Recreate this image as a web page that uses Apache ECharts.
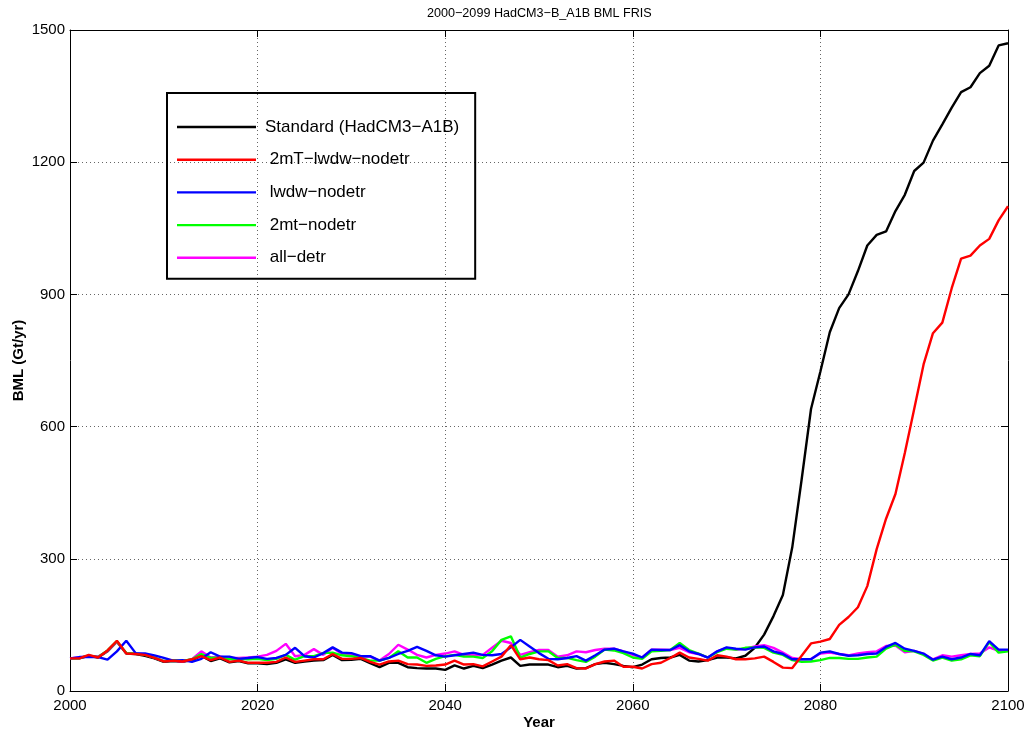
<!DOCTYPE html>
<html><head><meta charset="utf-8">
<script src="https://cdn.jsdelivr.net/npm/echarts@6/dist/echarts.min.js"></script>
<style>html,body{margin:0;padding:0;background:#fff}#c{width:1027px;height:736px}</style>
</head><body><div id="c"></div>
<script>
const START_YEAR = 2000;
const X_TICKS = [2000, 2020, 2040, 2060, 2080, 2100];
const Y_TICKS = [0, 300, 600, 900, 1200, 1500];
const TITLE = '2000\u22122099 HadCM3\u2212B_A1B BML FRIS';
const NAMES = ['Standard (HadCM3\u2212A1B)', ' 2mT\u2212lwdw\u2212nodetr', ' lwdw\u2212nodetr', ' 2mt\u2212nodetr', ' all\u2212detr'];

const standard = [
 74, 74, 80, 76, 90, 112, 85, 84, 80, 74, 66, 68, 66, 70, 80, 68, 74, 65, 68, 63, 63,
 61, 64, 72, 64, 67, 69, 70, 82, 70, 71, 73, 63, 54, 64, 64, 54, 52, 51, 51, 48,
 58, 51, 57, 52, 60, 69, 76, 57, 60, 60, 60, 54, 57, 51, 52, 61, 64, 61, 57, 54,
 60, 72, 75, 76, 82, 69, 67, 70, 76, 76, 74, 80, 98, 128, 170, 218, 326, 480, 640, 725,
 814, 869, 900, 953, 1011, 1035, 1043, 1089, 1126, 1180, 1199, 1249, 1286, 1324, 1359, 1370, 1402, 1419, 1465, 1470
];
const mt2_lwdw_nodetr = [
 74, 74, 82, 76, 92, 114, 85, 84, 82, 75, 67, 69, 67, 72, 79, 70, 76, 66, 69, 64, 64,
 64, 66, 76, 66, 69, 72, 72, 84, 73, 73, 75, 66, 60, 67, 69, 61, 60, 57, 58, 60,
 69, 60, 61, 56, 67, 78, 104, 72, 76, 72, 70, 58, 61, 52, 51, 61, 67, 69, 55, 55,
 51, 61, 64, 75, 87, 76, 73, 69, 81, 78, 72, 72, 74, 78, 66, 53, 52, 80, 108, 112,
 118, 150, 168, 190, 238, 322, 391, 447, 540, 640, 741, 812, 836, 914, 981, 988, 1011, 1026, 1068, 1100
];
const lwdw_nodetr = [
 74, 77, 77, 77, 71, 90, 114, 86, 85, 81, 75, 69, 70, 66, 73, 88, 78, 78, 73, 75, 77,
 73, 75, 82, 98, 79, 76, 86, 99, 87, 86, 79, 79, 69, 75, 84, 91, 100, 91, 81, 78,
 81, 84, 87, 82, 81, 84, 99, 116, 101, 86, 73, 72, 75, 79, 69, 81, 94, 96, 90, 85,
 76, 94, 93, 93, 104, 90, 84, 76, 90, 99, 96, 94, 99, 101, 90, 84, 72, 72, 72, 87,
 90, 84, 80, 81, 84, 85, 100, 109, 96, 91, 85, 71, 78, 72, 76, 84, 81, 113, 94, 94
];
const mt2_nodetr = [
 74, 75, 80, 77, 92, 113, 86, 85, 82, 76, 68, 70, 68, 72, 84, 75, 76, 72, 73, 72, 73,
 70, 73, 82, 71, 79, 79, 86, 87, 81, 79, 75, 69, 69, 75, 90, 76, 76, 64, 73, 79,
 82, 78, 78, 75, 90, 116, 124, 76, 84, 90, 90, 75, 75, 70, 66, 78, 94, 92, 86, 76,
 73, 90, 91, 93, 109, 93, 85, 76, 88, 96, 94, 98, 99, 98, 87, 82, 70, 66, 67, 70,
 75, 75, 73, 73, 76, 78, 96, 105, 91, 90, 82, 69, 76, 69, 72, 81, 79, 111, 87, 90
];
const all_detr = [
 74, 76, 79, 78, 91, 112, 86, 85, 83, 76, 68, 69, 67, 72, 90, 76, 78, 75, 75, 76, 78,
 82, 91, 107, 79, 82, 95, 82, 98, 84, 81, 78, 78, 69, 84, 105, 94, 82, 76, 82, 85,
 90, 82, 81, 82, 98, 114, 109, 82, 88, 93, 93, 78, 81, 90, 88, 93, 96, 96, 90, 82,
 76, 94, 94, 93, 98, 88, 84, 76, 90, 98, 94, 96, 101, 104, 98, 87, 75, 72, 73, 85,
 87, 84, 81, 85, 88, 90, 102, 103, 88, 91, 84, 72, 81, 78, 81, 84, 85, 99, 91, 91
];

const FONT = '"Liberation Sans", Arial, Helvetica, sans-serif';
const pairs = arr => arr.map((v, i) => [START_YEAR + i, v]);

function mkSeries(name, arr, color, z) {
  return {
    name: name, type: 'line', data: pairs(arr), symbol: 'none', showSymbol: false,
    lineStyle: { color: color, width: 2.4 }, itemStyle: { color: color },
    z: z, animation: false
  };
}

const tickStyle = { show: true, inside: true, length: 7, lineStyle: { color: '#000', width: 1 } };
const axisLineStyle = { show: true, onZero: false, lineStyle: { color: '#000', width: 1 } };
const gridStyle = { show: true, lineStyle: { color: '#666', width: 1, type: [1, 3] } };
const plain = v => String(v);

const chart = echarts.init(document.getElementById('c'), null, { renderer: 'canvas' });
chart.setOption({
  backgroundColor: '#fff',
  animation: false,
  textStyle: { fontFamily: FONT },
  title: {
    text: TITLE, left: 427, top: 7, padding: 0,
    textStyle: { fontFamily: FONT, fontSize: 12.6, fontWeight: 'normal', color: '#000' }
  },
  grid: { left: 70, right: 19, top: 30, bottom: 45, containLabel: false, outerBoundsMode: 'none' },
  legend: {
    orient: 'vertical', left: 167, top: 93,
    data: NAMES,
    icon: 'rect',
    itemWidth: 79, itemHeight: 2.4, itemGap: 12.7,
    padding: [24, 16, 11, 10],
    borderColor: '#000', borderWidth: 2,
    textStyle: { fontFamily: FONT, fontSize: 17, color: '#000', lineHeight: 20, padding: [0, 0, 0, 4] },
    selectedMode: false
  },
  xAxis: [{
    type: 'value', position: 'bottom', min: X_TICKS[0], max: X_TICKS[X_TICKS.length - 1],
    interval: X_TICKS[1] - X_TICKS[0],
    axisLine: axisLineStyle, axisTick: tickStyle,
    axisLabel: { color: '#000', fontSize: 15, fontFamily: FONT, margin: 7, formatter: plain },
    splitLine: gridStyle,
    name: 'Year', nameLocation: 'middle', nameGap: 24, nameMoveOverlap: false,
    nameTextStyle: { color: '#000', fontSize: 15, fontWeight: 'bold', fontFamily: FONT }
  }, {
    type: 'value', position: 'top', min: X_TICKS[0], max: X_TICKS[X_TICKS.length - 1],
    interval: X_TICKS[1] - X_TICKS[0],
    axisLine: axisLineStyle, axisTick: tickStyle,
    axisLabel: { show: false }, splitLine: { show: false }
  }],
  yAxis: [{
    type: 'value', position: 'left', min: Y_TICKS[0], max: Y_TICKS[Y_TICKS.length - 1],
    interval: Y_TICKS[1] - Y_TICKS[0],
    axisLine: axisLineStyle, axisTick: tickStyle,
    axisLabel: { color: '#000', fontSize: 15, fontFamily: FONT, margin: 5, formatter: plain },
    splitLine: gridStyle,
    name: 'BML (Gt/yr)', nameLocation: 'middle', nameGap: 44, nameMoveOverlap: false,
    nameTextStyle: { color: '#000', fontSize: 15, fontWeight: 'bold', fontFamily: FONT }
  }, {
    type: 'value', position: 'right', min: Y_TICKS[0], max: Y_TICKS[Y_TICKS.length - 1],
    interval: Y_TICKS[1] - Y_TICKS[0],
    axisLine: axisLineStyle, axisTick: tickStyle,
    axisLabel: { show: false }, splitLine: { show: false }
  }],
  series: [
    mkSeries(NAMES[0], standard, '#000000', 2),
    mkSeries(NAMES[4], all_detr, '#ff00ff', 3),
    mkSeries(NAMES[3], mt2_nodetr, '#00ff00', 4),
    mkSeries(NAMES[2], lwdw_nodetr, '#0000ff', 5),
    mkSeries(NAMES[1], mt2_lwdw_nodetr, '#ff0000', 6)
  ]
});
</script>
</body></html>
